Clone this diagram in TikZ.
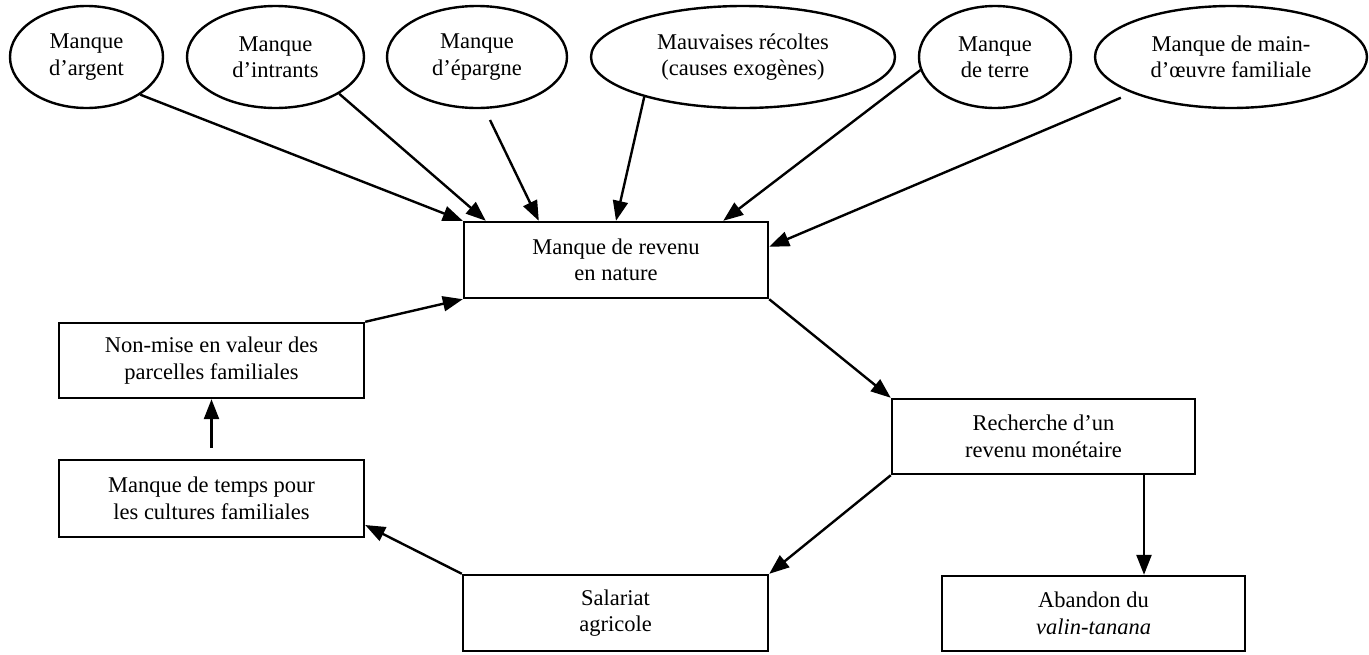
\documentclass[tikz,border=0pt]{standalone}
\usepackage{fontspec}
\setmainfont{Liberation Serif}
\usetikzlibrary{shapes.geometric,arrows.meta}
\begin{document}
\begin{tikzpicture}[x=1pt,y=-1pt,
  every node/.style={font=\fontsize{22.5}{26.5}\selectfont, align=center},
  bx/.style={draw, line width=2.4pt, rectangle, inner sep=0pt},
  oval/.style={draw, line width=2.4pt, ellipse, inner sep=0pt, minimum height=102pt},
  arr/.style={line width=2.4pt, -{Triangle[length=20pt,width=15pt]}}]
\fill[white] (0,0) rectangle (1369,654);
\useasboundingbox (0,0) rectangle (1369,654);
% ellipses
\node[oval, minimum width=153pt] (e1) at (86.5,57) {Manque\\d’argent};
\node[oval, minimum width=177pt] (e2) at (275.5,57) {Manque\\d’intrants};
\node[oval, minimum width=180pt] (e3) at (477,57) {Manque\\d’épargne};
\node[oval, minimum width=304pt] (e4) at (743,57) {Mauvaises récoltes\\(causes exogènes)};
\node[oval, minimum width=152pt] (e5) at (995,57) {Manque\\de terre};
\node[oval, minimum width=272pt] (e6) at (1231,57) {Manque de main-\\d’œuvre familiale};
% boxes
\node[bx, minimum width=304pt, minimum height=76pt] (main) at (616,260) {Manque de revenu\\en nature};
\node[bx, minimum width=305pt, minimum height=75pt] (nonmise) at (211.5,360.5) {Non-mise en valeur des\\parcelles familiales};
\node[bx, minimum width=305pt, minimum height=77pt] (temps) at (211.5,498.5) {Manque de temps pour\\les cultures familiales};
\node[bx, minimum width=305pt, minimum height=76pt] (salariat) at (615.5,613) {Salariat\\agricole};
\node[bx, minimum width=303pt, minimum height=75pt] (recherche) at (1043.5,436.5) {Recherche d’un\\revenu monétaire};
\node[bx, minimum width=303pt, minimum height=75pt] (abandon) at (1093.5,613.5) {Abandon du\\\textit{valin-tanana}};
% connectors
\coordinate (s3) at (490,120);
\draw[arr] (e1.-35.7) -- (main.north west);
\draw[arr] (e2.-30) -- ([xshift=23pt]main.north west);
\draw[arr] (s3) -- ([xshift=76pt]main.north west);
\draw[arr] (e4.-158) -- (main.north);
\draw[arr] (e5.190) -- ([xshift=-46pt]main.north east);
\draw[arr, shorten <=12pt] (e6.200) -- ([yshift=-26pt]main.north east);
\draw[arr] (nonmise.north east) -- (main.south west);
\draw[arr] (main.south east) -- (recherche.north west);
\draw[arr] (recherche.south west) -- (salariat.north east);
\coordinate (r1) at ([xshift=100.5pt]recherche.south);
\draw[arr] (r1) -- (r1 |- abandon.north);
\draw[arr] (salariat.north west) -- ([yshift=-26.5pt]temps.east);
\draw[arr] ([yshift=11pt]temps.north) -- (nonmise.south);
\end{tikzpicture}
\end{document}
